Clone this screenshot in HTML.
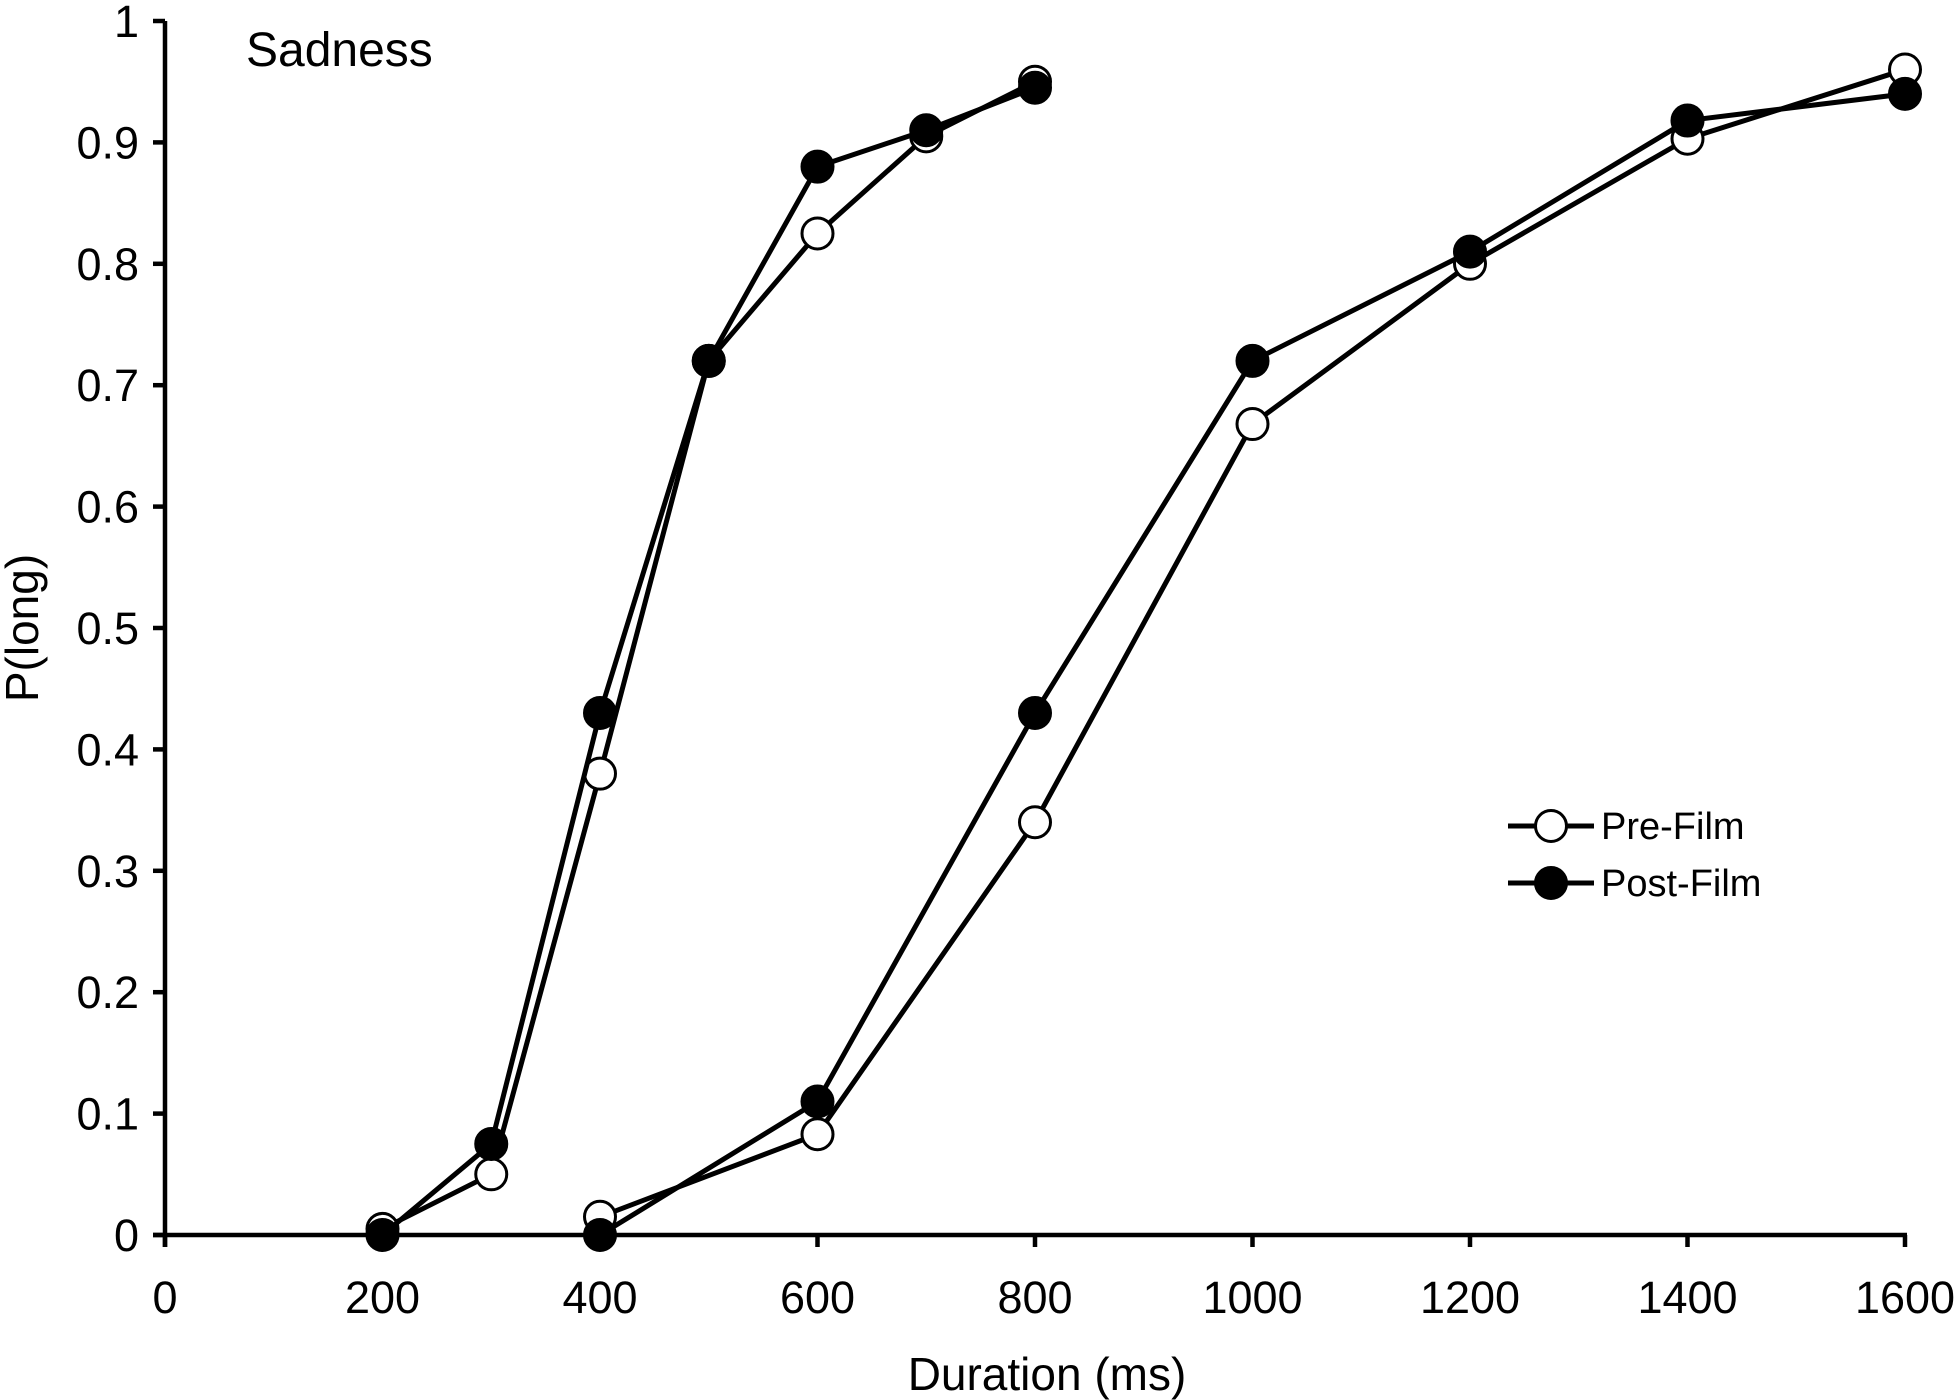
<!DOCTYPE html>
<html><head><meta charset="utf-8"><style>
body{margin:0;background:#fff;}
svg{display:block;font-family:"Liberation Sans",Arial,sans-serif;}
</style></head><body>
<svg id="chart" width="1960" height="1400" viewBox="0 0 1960 1400"></svg>
<script>
const xTicks=[0,200,400,600,800,1000,1200,1400,1600];
const yTicks=[0,0.1,0.2,0.3,0.4,0.5,0.6,0.7,0.8,0.9,1];
const yTickLabels=["0","0.1","0.2","0.3","0.4","0.5","0.6","0.7","0.8","0.9","1"];
const shortDur=[200,300,400,500,600,700,800];
const shortPre=[0.005,0.05,0.38,0.72,0.825,0.905,0.95];
const shortPost=[0,0.075,0.43,0.72,0.88,0.91,0.945];
const longDur=[400,600,800,1000,1200,1400,1600];
const longPre=[0.015,0.083,0.34,0.668,0.8,0.903,0.96];
const longPost=[0,0.11,0.43,0.72,0.81,0.918,0.94];

const NS="http://www.w3.org/2000/svg";
const svg=document.getElementById('chart');
const X0=165,X1=1905,Y0=1235,Y1=21;
const xs=v=>X0+(v/1600)*(X1-X0);
const ys=v=>Y0-v*(Y0-Y1);
function mk(tag,attrs,parent){const e=document.createElementNS(NS,tag);for(const k in attrs)e.setAttribute(k,attrs[k]);(parent||svg).appendChild(e);return e;}

const axes=mk('g',{});


let l=mk('line',{x1:X0,y1:Y1,x2:X0,y2:Y0+12,stroke:'#000','stroke-width':4.5},axes);


l=mk('line',{x1:X0-12,y1:Y0,x2:X1+2,y2:Y0,stroke:'#000','stroke-width':4.5},axes);


yTicks.forEach((v,i)=>{
  const t=mk('line',{x1:X0-12,y1:ys(v),x2:X0,y2:ys(v),stroke:'#000','stroke-width':4.5},axes);
  
  
  const tx=mk('text',{x:X0-26,y:ys(v)+16,'text-anchor':'end','font-size':45},axes);
  tx.textContent=yTickLabels[i];
  
  
});
xTicks.forEach(v=>{
  const t=mk('line',{x1:xs(v),y1:Y0,x2:xs(v),y2:Y0+12,stroke:'#000','stroke-width':4.5},axes);
  
  
  const tx=mk('text',{x:xs(v),y:Y0+78,'text-anchor':'middle','font-size':45},axes);
  tx.textContent=String(v);
  
  
});
let t=mk('text',{x:(X0+X1)/2+12,y:1390,'text-anchor':'middle','font-size':46});
t.textContent='Duration (ms)';


t=mk('text',{x:0,y:0,'text-anchor':'middle','font-size':46,transform:'translate(38,628) rotate(-90)'});
t.textContent='P(long)';


t=mk('text',{x:246,y:66,'font-size':48});
t.textContent='Sadness';



function series(dur,vals,filled,name){
  const g=mk('g',{});
  
  
  const p=mk('polyline',{points:dur.map((d,i)=>xs(d)+','+ys(vals[i])).join(' '),fill:'none',stroke:'#000','stroke-width':5,'stroke-linejoin':'round'},g);
  
  
  dur.forEach((d,i)=>{
    const c=mk('circle',{cx:xs(d),cy:ys(vals[i]),r:15.5,fill:filled?'#000':'#fff',stroke:'#000','stroke-width':3},g);
    
    
  });
}
series(shortDur,shortPre,false,'short-pre-film');
series(longDur,longPre,false,'long-pre-film');
series(shortDur,shortPost,true,'short-post-film');
series(longDur,longPost,true,'long-post-film');

const lg=mk('g',{});


[['Pre-Film',false,826],['Post-Film',true,883]].forEach(([lab,f,y])=>{
  const e=mk('g',{},lg);
  
  
  mk('line',{x1:1508,y1:y,x2:1594,y2:y,stroke:'#000','stroke-width':5},e);
  mk('circle',{cx:1551,cy:y,r:15.5,fill:f?'#000':'#fff',stroke:'#000','stroke-width':3},e);
  const tx=mk('text',{x:1601,y:y+13,'font-size':38},e);
  tx.textContent=lab;
});
</script>
</body></html>
